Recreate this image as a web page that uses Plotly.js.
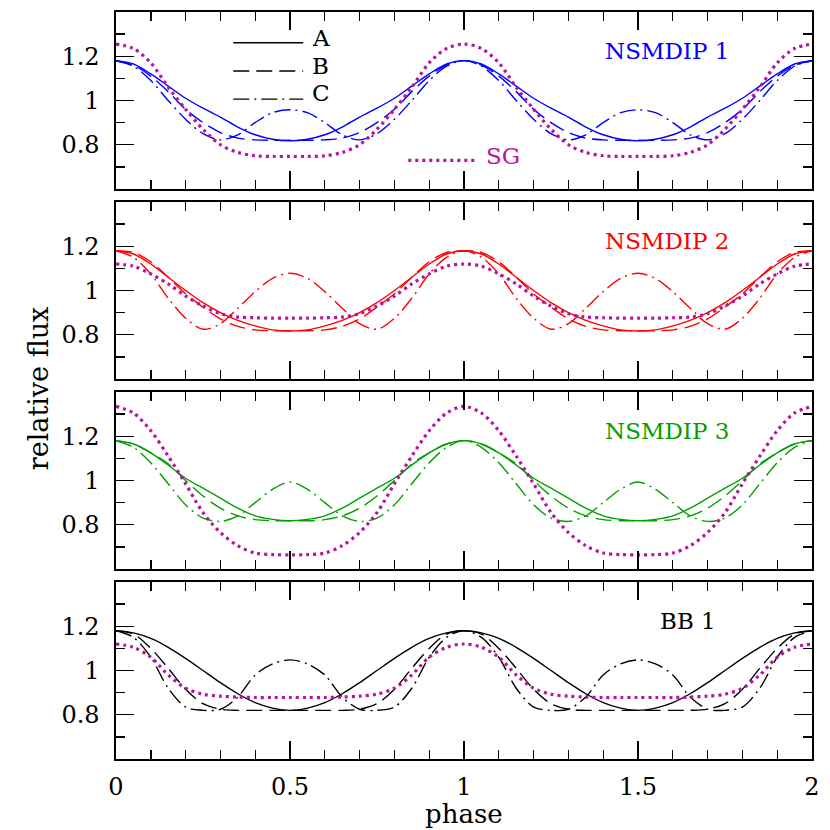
<!DOCTYPE html>
<html>
<head>
<meta charset="utf-8">
<script src="https://cdn.plot.ly/plotly-3.0.1.min.js"></script>
<style>html,body{margin:0;padding:0;background:#fff;}#chart{width:830px;height:830px;}</style>
</head>
<body>
<div id="chart"></div>
<script>
// ---------------- data ----------------
const phase = [0,0.05,0.1,0.15,0.2,0.25,0.3,0.35,0.4,0.45,0.5,0.55,0.6,0.65,0.7,0.75,0.8,0.85,0.9,0.95,1.0,
  1.05,1.1,1.15,1.2,1.25,1.3,1.35,1.4,1.45,1.5,1.55,1.6,1.65,1.7,1.75,1.8,1.85,1.9,1.95,2.0];

// NSMDIP 1
const nsm1A = [1.18,1.165,1.12,1.065,1.01,0.965,0.925,0.88,0.845,0.825,0.818,0.825,0.845,0.88,0.925,0.965,1.01,1.065,1.12,1.165,1.18,1.165,1.12,1.065,1.01,0.965,0.925,0.88,0.845,0.825,0.818,0.825,0.845,0.88,0.925,0.965,1.01,1.065,1.12,1.165,1.18];
const nsm1B = [1.18,1.16,1.11,1.04,0.96,0.9,0.855,0.83,0.822,0.82,0.82,0.82,0.822,0.83,0.855,0.9,0.96,1.04,1.11,1.16,1.18,1.16,1.11,1.04,0.96,0.9,0.855,0.83,0.822,0.82,0.82,0.82,0.822,0.83,0.855,0.9,0.96,1.04,1.11,1.16,1.18];
const nsm1C = [1.18,1.155,1.09,1.0,0.915,0.85,0.822,0.845,0.9,0.945,0.958,0.945,0.9,0.845,0.822,0.85,0.915,1.0,1.09,1.155,1.18,1.155,1.09,1.0,0.915,0.85,0.822,0.845,0.9,0.945,0.958,0.945,0.9,0.845,0.822,0.85,0.915,1.0,1.09,1.155,1.18];
const nsm1SG = [1.255,1.235,1.17,1.06,0.96,0.87,0.8,0.765,0.75,0.747,0.747,0.747,0.75,0.765,0.8,0.87,0.96,1.06,1.17,1.235,1.255,1.235,1.17,1.06,0.96,0.87,0.8,0.765,0.75,0.747,0.747,0.747,0.75,0.765,0.8,0.87,0.96,1.06,1.17,1.235,1.255];

// NSMDIP 2
const nsm2A = [1.18,1.165,1.12,1.06,1.0,0.945,0.9,0.865,0.84,0.822,0.817,0.822,0.84,0.865,0.9,0.945,1.0,1.06,1.12,1.165,1.18,1.165,1.12,1.06,1.0,0.945,0.9,0.865,0.84,0.822,0.817,0.822,0.84,0.865,0.9,0.945,1.0,1.06,1.12,1.165,1.18];
const nsm2B = [1.18,1.172,1.13,1.06,0.985,0.925,0.872,0.838,0.822,0.818,0.818,0.818,0.822,0.838,0.872,0.925,0.985,1.06,1.13,1.172,1.18,1.172,1.13,1.06,0.985,0.925,0.872,0.838,0.822,0.818,0.818,0.818,0.822,0.838,0.872,0.925,0.985,1.06,1.13,1.172,1.18];
const nsm2C = [1.18,1.15,1.075,0.965,0.875,0.825,0.85,0.92,0.995,1.055,1.078,1.055,0.995,0.92,0.85,0.825,0.875,0.965,1.075,1.15,1.18,1.15,1.075,0.965,0.875,0.825,0.85,0.92,0.995,1.055,1.078,1.055,0.995,0.92,0.85,0.825,0.875,0.965,1.075,1.15,1.18];
const nsm2SG = [1.12,1.11,1.075,1.03,0.975,0.93,0.895,0.88,0.877,0.875,0.875,0.875,0.877,0.88,0.895,0.93,0.975,1.03,1.075,1.11,1.12,1.11,1.075,1.03,0.975,0.93,0.895,0.88,0.877,0.875,0.875,0.875,0.877,0.88,0.895,0.93,0.975,1.03,1.075,1.11,1.12];

// NSMDIP 3
const nsm3A = [1.18,1.165,1.125,1.07,1.01,0.965,0.92,0.875,0.84,0.824,0.818,0.824,0.84,0.875,0.92,0.965,1.01,1.07,1.125,1.165,1.18,1.165,1.125,1.07,1.01,0.965,0.92,0.875,0.84,0.824,0.818,0.824,0.84,0.875,0.92,0.965,1.01,1.07,1.125,1.165,1.18];
const nsm3B = [1.18,1.165,1.125,1.075,1.0,0.93,0.875,0.84,0.823,0.818,0.818,0.818,0.823,0.84,0.875,0.93,1.0,1.075,1.125,1.165,1.18,1.165,1.125,1.075,1.0,0.93,0.875,0.84,0.823,0.818,0.818,0.818,0.823,0.84,0.875,0.93,1.0,1.075,1.125,1.165,1.18];
const nsm3C = [1.18,1.15,1.08,0.985,0.89,0.83,0.815,0.84,0.9,0.96,0.993,0.96,0.9,0.84,0.815,0.83,0.89,0.985,1.08,1.15,1.18,1.15,1.08,0.985,0.89,0.83,0.815,0.84,0.9,0.96,0.993,0.96,0.9,0.84,0.815,0.83,0.89,0.985,1.08,1.15,1.18];
const nsm3SG = [1.335,1.305,1.225,1.11,0.985,0.855,0.765,0.705,0.672,0.665,0.664,0.665,0.672,0.705,0.765,0.855,0.985,1.11,1.225,1.305,1.335,1.305,1.225,1.11,0.985,0.855,0.765,0.705,0.672,0.665,0.664,0.665,0.672,0.705,0.765,0.855,0.985,1.11,1.225,1.305,1.335];

// BB 1
const bb1A = [1.18,1.17,1.145,1.105,1.055,1.0,0.945,0.895,0.855,0.83,0.82,0.83,0.855,0.895,0.945,1.0,1.055,1.105,1.145,1.17,1.18,1.17,1.145,1.105,1.055,1.0,0.945,0.895,0.855,0.83,0.82,0.83,0.855,0.895,0.945,1.0,1.055,1.105,1.145,1.17,1.18];
const bb1B = [1.18,1.165,1.1,1.01,0.915,0.85,0.825,0.82,0.82,0.82,0.82,0.82,0.82,0.82,0.825,0.85,0.915,1.01,1.1,1.165,1.18,1.165,1.1,1.01,0.915,0.85,0.825,0.82,0.82,0.82,0.82,0.82,0.82,0.82,0.825,0.85,0.915,1.01,1.1,1.165,1.18];
const bb1C = [1.18,1.15,1.06,0.92,0.835,0.82,0.825,0.88,0.98,1.03,1.048,1.03,0.98,0.88,0.825,0.82,0.835,0.92,1.06,1.15,1.18,1.15,1.06,0.92,0.835,0.82,0.825,0.88,0.98,1.03,1.048,1.03,0.98,0.88,0.825,0.82,0.835,0.92,1.06,1.15,1.18];
const bb1SG = [1.12,1.105,1.06,0.98,0.92,0.893,0.884,0.88,0.878,0.878,0.878,0.878,0.878,0.88,0.884,0.893,0.92,0.98,1.06,1.105,1.12,1.105,1.06,0.98,0.92,0.893,0.884,0.88,0.878,0.878,0.878,0.878,0.878,0.88,0.884,0.893,0.92,0.98,1.06,1.105,1.12];

const panelNames = ['NSMDIP 1','NSMDIP 2','NSMDIP 3','BB 1'];
const panelColors = ['#0000ff','#ff0000','#00a000','#000000'];
const seriesNames = ['A','B','C','SG'];
const yTickVals = [0.8, 1, 1.2];
const yTickText = ['0.8', '1', '1.2'];
const xTickVals = [0, 0.5, 1, 1.5, 2];
const xTickText = ['0', '0.5', '1', '1.5', '2'];

// ---------------- styling ----------------
const SG_COLOR = '#b8139b';
const FONT = 'DejaVu Serif';
const panelData = [
  [nsm1A, nsm1B, nsm1C, nsm1SG],
  [nsm2A, nsm2B, nsm2C, nsm2SG],
  [nsm3A, nsm3B, nsm3C, nsm3SG],
  [bb1A, bb1B, bb1C, bb1SG]
];
const dashes = ['solid', '16px,7px', '16px,5px,2px,5px', '3px,4px'];
const widths = [1.4, 1.4, 1.4, 3.2];

const traces = [];
panelData.forEach((set, p) => {
  set.forEach((vals, s) => {
    traces.push({
      x: phase, y: vals, type: 'scatter', mode: 'lines',
      name: seriesNames[s], showlegend: false, hoverinfo: 'skip',
      xaxis: p === 0 ? 'x' : 'x' + (p + 1),
      yaxis: p === 0 ? 'y' : 'y' + (p + 1),
      line: { color: s === 3 ? SG_COLOR : panelColors[p], width: widths[s], dash: dashes[s], shape: 'spline', smoothing: 0.9 }
    });
  });
});

const domains = [[0.7631, 1], [0.5087, 0.7456], [0.2544, 0.4913], [0, 0.2369]];
const layout = {
  width: 830, height: 830,
  margin: { l: 116, r: 18, t: 12, b: 71 },
  paper_bgcolor: '#fff', plot_bgcolor: '#fff',
  showlegend: false,
  font: { family: FONT, color: '#000' },
  shapes: [], annotations: []
};
for (let p = 0; p < 4; p++) {
  const xk = p === 0 ? 'xaxis' : 'xaxis' + (p + 1);
  const yk = p === 0 ? 'yaxis' : 'yaxis' + (p + 1);
  const yName = p === 0 ? 'y' : 'y' + (p + 1);
  const xName = p === 0 ? 'x' : 'x' + (p + 1);
  layout[xk] = {
    domain: [0, 1], anchor: yName, range: [0, 2],
    showline: true, linecolor: '#000', linewidth: 1.6, mirror: 'allticks',
    ticks: 'inside', ticklen: 18, tickwidth: 1.4, tickcolor: '#000',
    tickmode: 'array', tickvals: xTickVals, ticktext: xTickText,
    minor: { ticks: 'inside', ticklen: 9, tickwidth: 1.4, tickcolor: '#000', tickmode: 'linear', tick0: 0, dtick: 0.1 },
    showticklabels: p === 3, tickfont: { family: FONT, size: 24, color: '#000' },
    ticklabelstandoff: 6,
    showgrid: false, zeroline: false, fixedrange: true
  };
  layout[yk] = {
    domain: domains[p], anchor: xName, range: [0.6, 1.4],
    showline: true, linecolor: '#000', linewidth: 1.6, mirror: 'allticks',
    ticks: 'inside', ticklen: 18, tickwidth: 1.4, tickcolor: '#000',
    tickmode: 'array', tickvals: yTickVals, ticktext: yTickText,
    minor: { ticks: 'inside', ticklen: 9, tickwidth: 1.4, tickcolor: '#000', tickmode: 'array', tickvals: [0.7, 0.9, 1.1, 1.3] },
    tickfont: { family: FONT, size: 24, color: '#000' },
    ticklabelstandoff: 10,
    showgrid: false, zeroline: false, fixedrange: true
  };
  layout.annotations.push({
    xref: xName, yref: yName, x: p === 3 ? 1.557 : 1.398, y: 1.224,
    xanchor: 'left', yanchor: 'middle', showarrow: false,
    text: panelNames[p], font: { family: FONT, size: 23, color: panelColors[p] }
  });
}

// in-panel key (panel 1)
const keyY = [1.261, 1.133, 1.006];
const keyTextY = [1.281, 1.158, 1.032];
for (let i = 0; i < 3; i++) {
  layout.shapes.push({ type: 'line', xref: 'x', yref: 'y', x0: 0.337, x1: 0.538, y0: keyY[i], y1: keyY[i],
    line: { color: '#000', width: 1.4, dash: dashes[i] } });
  layout.annotations.push({ xref: 'x', yref: 'y', x: 0.558, y: keyTextY[i], xanchor: 'left', yanchor: 'middle',
    showarrow: false, text: seriesNames[i], font: { family: FONT, size: 23, color: '#000' } });
}
layout.shapes.push({ type: 'line', xref: 'x', yref: 'y', x0: 0.84, x1: 1.041, y0: 0.729, y1: 0.729,
  line: { color: SG_COLOR, width: 3.2, dash: dashes[3] } });
layout.annotations.push({ xref: 'x', yref: 'y', x: 1.058, y: 0.75, xanchor: 'left', yanchor: 'middle',
  showarrow: false, text: 'SG', font: { family: FONT, size: 23, color: SG_COLOR } });

// axis titles
layout.annotations.push({ xref: 'paper', yref: 'paper', x: -0.111, y: 0.496, xanchor: 'center', yanchor: 'middle',
  textangle: -90, showarrow: false, text: 'relative flux', font: { family: FONT, size: 27, color: '#000' } });
layout.annotations.push({ xref: 'paper', yref: 'paper', x: 0.5, y: -0.0735, xanchor: 'center', yanchor: 'middle',
  showarrow: false, text: 'phase', font: { family: FONT, size: 26, color: '#000' } });

Plotly.newPlot('chart', traces, layout, { staticPlot: true, displayModeBar: false });
</script>
</body>
</html>
